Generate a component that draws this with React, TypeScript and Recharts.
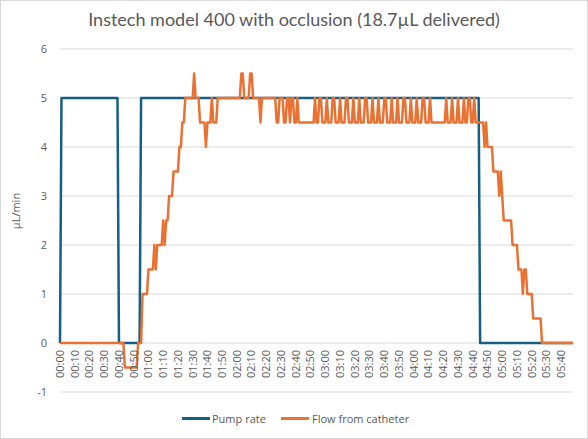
import React from 'react';
import { LineChart, Line, XAxis, YAxis, CartesianGrid } from 'recharts';

// Time in seconds from start (one sample per second), 0 .. 348
const PUMP_RATE: number[] = [
  0, 5, 5, 5, 5, 5, 5, 5, 5, 5,
  5, 5, 5, 5, 5, 5, 5, 5, 5, 5,
  5, 5, 5, 5, 5, 5, 5, 5, 5, 5,
  5, 5, 5, 5, 5, 5, 5, 5, 5, 5,
  0, 0, 0, 0, 0, 0, 0, 0, 0, 0,
  0, 0, 0, 0, 0, 5, 5, 5, 5, 5,
  5, 5, 5, 5, 5, 5, 5, 5, 5, 5,
  5, 5, 5, 5, 5, 5, 5, 5, 5, 5,
  5, 5, 5, 5, 5, 5, 5, 5, 5, 5,
  5, 5, 5, 5, 5, 5, 5, 5, 5, 5,
  5, 5, 5, 5, 5, 5, 5, 5, 5, 5,
  5, 5, 5, 5, 5, 5, 5, 5, 5, 5,
  5, 5, 5, 5, 5, 5, 5, 5, 5, 5,
  5, 5, 5, 5, 5, 5, 5, 5, 5, 5,
  5, 5, 5, 5, 5, 5, 5, 5, 5, 5,
  5, 5, 5, 5, 5, 5, 5, 5, 5, 5,
  5, 5, 5, 5, 5, 5, 5, 5, 5, 5,
  5, 5, 5, 5, 5, 5, 5, 5, 5, 5,
  5, 5, 5, 5, 5, 5, 5, 5, 5, 5,
  5, 5, 5, 5, 5, 5, 5, 5, 5, 5,
  5, 5, 5, 5, 5, 5, 5, 5, 5, 5,
  5, 5, 5, 5, 5, 5, 5, 5, 5, 5,
  5, 5, 5, 5, 5, 5, 5, 5, 5, 5,
  5, 5, 5, 5, 5, 5, 5, 5, 5, 5,
  5, 5, 5, 5, 5, 5, 5, 5, 5, 5,
  5, 5, 5, 5, 5, 5, 5, 5, 5, 5,
  5, 5, 5, 5, 5, 5, 5, 5, 5, 5,
  5, 5, 5, 5, 5, 5, 5, 5, 5, 5,
  5, 5, 5, 5, 5, 0, 0, 0, 0, 0,
  0, 0, 0, 0, 0, 0, 0, 0, 0, 0,
  0, 0, 0, 0, 0, 0, 0, 0, 0, 0,
  0, 0, 0, 0, 0, 0, 0, 0, 0, 0,
  0, 0, 0, 0, 0, 0, 0, 0, 0, 0,
  0, 0, 0, 0, 0, 0, 0, 0, 0, 0,
  0, 0, 0, 0, 0, 0, 0, 0, 0,
];

const FLOW_FROM_CATHETER: number[] = [
  0, 0, 0, 0, 0, 0, 0, 0, 0, 0,
  0, 0, 0, 0, 0, 0, 0, 0, 0, 0,
  0, 0, 0, 0, 0, 0, 0, 0, 0, 0,
  0, 0, 0, 0, 0, 0, 0, 0, 0, 0,
  0, 0, 0, 0, -0.5, -0.5, -0.5, -0.5, -0.5, -0.5,
  -0.5, -0.5, -0.5, 0, 0, 0, 1, 1, 1, 1,
  1.5, 1.5, 1.5, 1.5, 2, 1.5, 2, 2, 2, 2,
  2.5, 2, 2.5, 2.5, 3, 3, 3, 3.5, 3.5, 3.5,
  3.5, 4, 4, 4.5, 4.5, 5, 5, 5, 5, 5,
  5, 5.5, 5, 5, 5, 4.5, 4.5, 4.5, 4.5, 4,
  4.5, 4.5, 4.5, 5, 4.5, 4.5, 4.5, 5, 5, 5,
  5, 5, 5, 5, 5, 5, 5, 5, 5, 5,
  5, 5, 5, 5.5, 5.5, 5, 5, 5, 5, 5.5,
  5.5, 5, 5, 5, 5, 5, 4.5, 5, 5, 5,
  5, 5, 5, 5, 5, 5, 5, 4.5, 4.5, 5,
  5, 5, 4.5, 4.5, 5, 5, 4.5, 5, 5, 4.5,
  4.5, 5, 4.5, 4.5, 4.5, 4.5, 4.5, 4.5, 4.5, 4.5,
  4.5, 4.5, 4.5, 5, 4.5, 4.5, 5, 5, 4.5, 4.5,
  4.5, 5, 4.5, 4.5, 4.5, 5, 5, 4.5, 4.5, 4.5,
  5, 4.5, 4.5, 4.5, 5, 5, 4.5, 4.5, 4.5, 5,
  4.5, 4.5, 4.5, 5, 4.5, 4.5, 4.5, 5, 5, 4.5,
  4.5, 4.5, 5, 4.5, 4.5, 4.5, 5, 4.5, 4.5, 4.5,
  5, 5, 4.5, 4.5, 4.5, 5, 4.5, 4.5, 4.5, 5,
  4.5, 4.5, 4.5, 5, 5, 4.5, 4.5, 4.5, 5, 4.5,
  4.5, 4.5, 5, 4.5, 4.5, 4.5, 5, 5, 4.5, 4.5,
  4.5, 5, 4.5, 4.5, 4.5, 4.5, 4.5, 4.5, 4.5, 4.5,
  4.5, 4.5, 5, 4.5, 4.5, 4.5, 5, 4.5, 4.5, 4.5,
  5, 4.5, 4.5, 4.5, 5, 4.5, 4.5, 5, 5, 4.5,
  4.5, 5, 4.5, 4.5, 4.5, 4.5, 4.5, 4.5, 4, 4.5,
  4, 4, 4, 4, 3.5, 3.5, 3.5, 3.5, 3, 3.5,
  3, 2.5, 2.5, 2.5, 2.5, 2.5, 2.5, 2, 2, 2,
  2, 1.5, 1.5, 1.5, 1, 1.5, 1.5, 1, 1, 1,
  1, 0.5, 0.5, 0.5, 0.5, 0.5, 0.5, 0, 0, 0,
  0, 0, 0, 0, 0, 0, 0, 0, 0, 0,
  0, 0, 0, 0, 0, 0, 0, 0, 0,
];

const TICK_SECONDS: number[] = [
  0, 10, 20, 30, 40, 50, 60, 70, 80, 90, 100, 110, 120, 130, 140, 150, 160,
  170, 180, 190, 200, 210, 220, 230, 240, 250, 260, 270, 280, 290, 300, 310,
  320, 330, 340,
];
const TICK_LABELS: string[] = [
  '00:00', '00:10', '00:20', '00:30', '00:40', '00:50', '01:00', '01:10',
  '01:20', '01:30', '01:40', '01:50', '02:00', '02:10', '02:20', '02:30',
  '02:40', '02:50', '03:00', '03:10', '03:20', '03:30', '03:40', '03:50',
  '04:00', '04:10', '04:20', '04:30', '04:40', '04:50', '05:00', '05:10',
  '05:20', '05:30', '05:40',
];
const Y_TICKS: number[] = [-1, 0, 1, 2, 3, 4, 5, 6];

const TITLE = 'Instech model 400 with occlusion (18.7\u00b5L delivered)';
const Y_LABEL = '\u00b5L/min';
const SERIES_NAMES = ['Pump rate', 'Flow from catheter'];

const BLUE = '#156082';
const ORANGE = '#E97132';
const TEXT = '#595959';
const GRID = '#d9d9d9';
const TITLE_FONT = 'Lato, "Liberation Sans", sans-serif';
const FONT = '"Open Sans", "Liberation Sans", sans-serif';

const W = 588;
const H = 439;
const MARGIN = { top: 49, right: 15, bottom: 17, left: 20 };
const XAXIS_H = 30;
const YAXIS_W = 40;
const PLOT_H = H - MARGIN.top - MARGIN.bottom - XAXIS_H;
const Y_MIN = -1;
const Y_MAX = 6;
const UNIT_PX = PLOT_H / (Y_MAX - Y_MIN);

const data = FLOW_FROM_CATHETER.map((flow, i) => ({
  t: i,
  pump: PUMP_RATE[i],
  flow,
}));

const labelFor = (sec: number) => {
  const idx = TICK_SECONDS.indexOf(sec);
  return idx >= 0 ? TICK_LABELS[idx] : '';
};

// X tick labels sit on the zero line (axis crosses at 0), one unit above the plot bottom
const XTick = (props: any) => {
  const { x, y, payload } = props;
  const top = y - UNIT_PX * (0 - Y_MIN) + 7;
  return (
    <text
      transform={`translate(${x}, ${top}) rotate(-90)`}
      textAnchor="end"
      dy="0.35em"
      fill={TEXT}
      fontSize={11}
      fontFamily={FONT}
    >
      {labelFor(payload.value)}
    </text>
  );
};

const swatch = (color: string, left: number) => (
  <span
    style={{
      position: 'absolute',
      left,
      top: 417,
      width: 28,
      height: 3,
      background: color,
    }}
  />
);

const legendText = (text: string, left: number) => (
  <span
    style={{
      position: 'absolute',
      left,
      top: 418,
      transform: 'translateY(-50%)',
      fontSize: 11,
      fontFamily: FONT,
      color: TEXT,
      whiteSpace: 'nowrap',
      lineHeight: 1,
    }}
  >
    {text}
  </span>
);

export default function App() {
  return (
    <div
      style={{
        position: 'fixed',
        left: 0,
        top: 0,
        width: W,
        height: H,
        background: '#fff',
        fontFamily: FONT,
      }}
    >
      <div
        style={{
          position: 'absolute',
          left: 0,
          top: 0,
          width: W - 2,
          height: H - 2,
          border: `1px solid ${GRID}`,
        }}
      />
      <div
        style={{
          position: 'absolute',
          left: 0,
          top: 8,
          width: W,
          textAlign: 'center',
          fontSize: 18,
          fontFamily: TITLE_FONT,
          color: TEXT,
          whiteSpace: 'nowrap',
        }}
      >
        {TITLE}
      </div>
      <div
        style={{
          position: 'absolute',
          left: 15,
          top: 211,
          transform: 'translate(-50%, -50%) rotate(-90deg)',
          fontSize: 11,
          color: TEXT,
          whiteSpace: 'nowrap',
        }}
      >
        {Y_LABEL}
      </div>
      <div style={{ position: 'absolute', left: 0, top: 0 }}>
        <LineChart width={W} height={H} data={data} margin={MARGIN}>
          <CartesianGrid horizontal vertical={false} stroke={GRID} strokeWidth={1} />
          <XAxis
            type="number"
            dataKey="t"
            domain={[0, 348]}
            ticks={TICK_SECONDS}
            interval={0}
            height={XAXIS_H}
            axisLine={false}
            tickLine={false}
            tickSize={0}
            tickMargin={0}
            tick={<XTick />}
          />
          <YAxis
            type="number"
            domain={[Y_MIN, Y_MAX]}
            ticks={Y_TICKS}
            interval={0}
            width={YAXIS_W}
            axisLine={false}
            tickLine={false}
            tickSize={0}
            tickMargin={13}
            tick={{ fill: TEXT, fontSize: 11, fontFamily: FONT }}
          />
          <Line
            type="linear"
            dataKey="pump"
            name={SERIES_NAMES[0]}
            stroke={BLUE}
            strokeWidth={2.5}
            dot={false}
            activeDot={false}
            isAnimationActive={false}
            strokeLinejoin="round"
          />
          <Line
            type="linear"
            dataKey="flow"
            name={SERIES_NAMES[1]}
            stroke={ORANGE}
            strokeWidth={2.5}
            dot={false}
            activeDot={false}
            isAnimationActive={false}
            strokeLinejoin="round"
          />
        </LineChart>
      </div>
      {swatch(BLUE, 182)}
      {legendText(SERIES_NAMES[0], 212)}
      {swatch(ORANGE, 281)}
      {legendText(SERIES_NAMES[1], 312)}
    </div>
  );
}
